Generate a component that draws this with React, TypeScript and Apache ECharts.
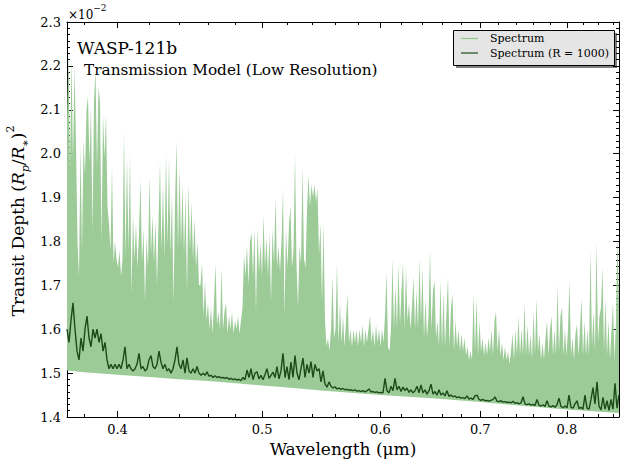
import { useEffect, useRef } from "react";
import * as echarts from "echarts";

// Wavelength range of the plotted spectrum (micron)
const WAVE_MIN = 0.37;
const WAVE_MAX = 0.867;

// Labelled and minor wavelength ticks
const MAJOR_WAVE_TICKS = [0.4, 0.5, 0.6, 0.7, 0.8];
const MINOR_WAVE_TICKS = [
  0.38, 0.42, 0.44, 0.46, 0.48, 0.52, 0.54, 0.56, 0.58, 0.62, 0.64, 0.66, 0.68,
  0.72, 0.74, 0.76, 0.78, 0.82, 0.84, 0.86,
];

// Transit depth axis (units of 1e-2)
const DEPTH_MIN = 1.4;
const DEPTH_MAX = 2.3;
const DEPTH_STEP = 0.1;

// Native-resolution spectrum: upper envelope, sampled on a uniform log-wavelength grid
const SPECTRUM_PEAK = [
  2.08, 2.23, 1.96, 2.22, 1.98, 2.2, 2.02, 1.8, 1.72, 2.02,
  1.78, 2.03, 1.95, 2.1, 2.13, 1.98, 2.11, 1.82, 2.12, 2.19,
  1.97, 2.15, 2.12, 1.8, 2.09, 1.99, 2.09, 1.88, 1.84,
  1.78, 1.97, 1.75, 1.8, 1.76, 1.74, 1.78, 1.72, 1.76, 2.05,
  1.76, 1.99, 1.78, 2.0, 1.68, 1.86, 1.76, 1.84, 1.74, 1.82,
  1.94, 1.75, 1.83, 1.66, 1.81, 1.74, 1.95, 1.77, 1.86, 1.75,
  1.85, 1.7, 1.84, 1.98, 1.78, 1.93, 1.76, 2.0, 1.79, 1.99,
  1.77, 1.91, 1.66, 1.88, 2.03, 1.78, 1.97, 1.79, 1.93, 1.77,
  1.91, 1.68, 1.93, 1.78, 1.89, 1.76, 1.85, 1.74, 1.8, 1.7,
  1.7, 1.75, 1.63, 1.71, 1.62, 1.66, 1.6, 1.65, 1.59, 1.66,
  1.75, 1.61, 1.64, 1.6, 1.74, 1.6, 1.64, 1.66, 1.59, 1.63,
  1.6, 1.64, 1.59, 1.62, 1.6, 1.63, 1.59, 1.62, 1.65, 1.77,
  1.72, 1.79, 1.7, 1.8, 1.82, 1.72, 1.83, 1.64, 1.83, 1.73,
  1.8, 1.72, 1.86, 1.74, 1.81, 1.72, 1.82, 1.66, 1.83, 1.75,
  1.9, 1.74, 1.79, 1.73, 1.8, 1.92, 1.63, 1.83, 1.74, 1.84,
  1.88, 1.74, 1.78, 2.0, 1.75, 1.65, 1.79, 1.75, 1.97, 1.76,
  1.74, 1.87, 1.95, 1.88, 1.93, 1.9, 1.93, 1.89, 1.92, 1.77,
  1.84, 1.66, 1.84, 1.62,
  1.56, 1.58, 1.55, 1.6, 1.72, 1.58, 1.6, 1.75, 1.57, 1.66,
  1.57, 1.63, 1.56, 1.62, 1.68, 1.57, 1.6, 1.56, 1.6, 1.57,
  1.6, 1.56, 1.6, 1.57, 1.61, 1.56, 1.6, 1.57, 1.6, 1.63,
  1.57, 1.6, 1.56, 1.61, 1.57, 1.6, 1.56, 1.6, 1.57, 1.63,
  1.73, 1.56, 1.55, 1.6, 1.76, 1.6, 1.7, 1.6, 1.75, 1.61,
  1.69, 1.75, 1.6, 1.74, 1.62, 1.66, 1.6, 1.65, 1.72, 1.6,
  1.69, 1.6, 1.76, 1.62, 1.74, 1.58, 1.67, 1.58, 1.63, 1.78,
  1.6, 1.69, 1.71, 1.58, 1.62, 1.56,
  1.71, 1.56, 1.68, 1.56, 1.64, 1.72, 1.56, 1.65, 1.68, 1.55,
  1.62, 1.56, 1.6, 1.55, 1.59, 1.55, 1.58, 1.54, 1.56, 1.53,
  1.55, 1.53, 1.68, 1.55, 1.67, 1.54, 1.62, 1.55, 1.58, 1.54,
  1.57, 1.54, 1.58, 1.55, 1.6, 1.54, 1.62, 1.64, 1.55, 1.6,
  1.54, 1.57, 1.53, 1.56, 1.53, 1.55, 1.52, 1.55, 1.59, 1.53,
  1.6, 1.54, 1.63, 1.54, 1.6, 1.54, 1.66, 1.54, 1.61, 1.54,
  1.59, 1.53, 1.64, 1.54, 1.67, 1.55, 1.59, 1.53, 1.57, 1.53,
  1.58, 1.62, 1.54, 1.6, 1.63, 1.54, 1.6, 1.54, 1.7, 1.55,
  1.63, 1.65, 1.54, 1.6, 1.54, 1.6, 1.71, 1.54, 1.58, 1.53,
  1.59, 1.61, 1.54, 1.6, 1.67, 1.54, 1.62, 1.54, 1.6, 1.54,
  1.78, 1.56, 1.64, 1.55, 1.8, 1.57, 1.63, 1.65, 1.74, 1.55,
  1.67, 1.54, 1.62, 1.53, 1.6, 1.66, 1.53, 1.62, 1.81, 1.65,
];

// Lower envelope (continuum floor) of the native-resolution spectrum
const FLOOR_WAVE = [
  0.37, 0.38, 0.39, 0.4, 0.42, 0.44, 0.46, 0.48, 0.5, 0.52, 0.55, 0.6, 0.65,
  0.7, 0.75, 0.8, 0.867,
];
const FLOOR_DEPTH = [
  1.506, 1.502, 1.499, 1.496, 1.491, 1.486, 1.482, 1.477, 1.472, 1.467, 1.46,
  1.45, 1.443, 1.434, 1.425, 1.417, 1.409,
];

// Spectrum binned to R = 1000, on its own uniform log-wavelength grid
const BINNED_DEPTH = [
  1.6, 1.57, 1.62, 1.66, 1.6, 1.55, 1.53, 1.58, 1.55, 1.6,
  1.63, 1.58, 1.56, 1.6, 1.58, 1.6, 1.57, 1.59, 1.55, 1.57,
  1.53, 1.51, 1.52, 1.51, 1.52, 1.51, 1.52, 1.51, 1.53, 1.56,
  1.51, 1.52, 1.51, 1.505, 1.51, 1.52, 1.545, 1.51, 1.515, 1.505,
  1.51, 1.53, 1.54, 1.515, 1.51, 1.52, 1.55, 1.525, 1.51, 1.52,
  1.505, 1.51, 1.5, 1.51, 1.53, 1.56, 1.52, 1.51, 1.53, 1.5,
  1.535, 1.505, 1.5, 1.51, 1.5, 1.515, 1.5, 1.495, 1.5, 1.495,
  1.503, 1.493, 1.495, 1.49, 1.494, 1.49, 1.492, 1.489, 1.49, 1.488,
  1.49, 1.486, 1.488, 1.485, 1.487, 1.484, 1.486, 1.483, 1.49, 1.485,
  1.507, 1.49, 1.51, 1.485, 1.5, 1.503, 1.487, 1.495, 1.485, 1.497,
  1.51, 1.488, 1.495, 1.502, 1.49, 1.515, 1.487, 1.505, 1.545, 1.49,
  1.515, 1.485, 1.525, 1.49, 1.54, 1.5, 1.485, 1.51, 1.534, 1.49,
  1.52, 1.5, 1.526, 1.49, 1.52, 1.505, 1.51, 1.48, 1.505, 1.475,
  1.468, 1.48, 1.47, 1.466, 1.469, 1.464, 1.466, 1.463, 1.465, 1.462,
  1.463, 1.461, 1.462, 1.46, 1.462, 1.459, 1.46, 1.458, 1.46, 1.457,
  1.46, 1.464, 1.457, 1.458, 1.456, 1.457, 1.455, 1.456, 1.455, 1.488,
  1.46, 1.455, 1.47, 1.46, 1.488, 1.462, 1.47, 1.458, 1.468, 1.46,
  1.466, 1.456, 1.462, 1.455, 1.46, 1.47, 1.455, 1.473, 1.455, 1.462,
  1.452, 1.46, 1.475, 1.452, 1.458, 1.45, 1.462, 1.45, 1.455, 1.448,
  1.46, 1.447, 1.45, 1.446, 1.448, 1.444, 1.446, 1.443, 1.444, 1.442,
  1.448, 1.441, 1.443, 1.44, 1.448, 1.45, 1.44, 1.438, 1.44, 1.437,
  1.438, 1.436, 1.438, 1.44, 1.446, 1.436, 1.435, 1.437, 1.434, 1.435,
  1.433, 1.434, 1.432, 1.436, 1.431, 1.433, 1.43, 1.432, 1.446, 1.43,
  1.428, 1.43, 1.427, 1.429, 1.426, 1.44, 1.427, 1.425, 1.428, 1.424,
  1.437, 1.425, 1.423, 1.426, 1.422, 1.428, 1.443, 1.424, 1.421, 1.425,
  1.421, 1.45, 1.422, 1.42, 1.43, 1.437, 1.419, 1.422, 1.418, 1.45,
  1.42, 1.418, 1.44, 1.467, 1.43, 1.48, 1.425, 1.416, 1.445, 1.418,
  1.437, 1.415, 1.44, 1.418, 1.477, 1.42, 1.45,
];

const LIGHT_FILL = "#9ccb98";
const LIGHT_LINE = "#8ccb88";
const DARK_LINE = "#1c4a18";
const FONT = "DejaVu Serif";

const lg = (w: number) => Math.log10(w);

// Uniform grid in log-wavelength between the range limits
function logWaveGrid(n: number): number[] {
  const step = Math.log(WAVE_MAX / WAVE_MIN) / (n - 1);
  return Array.from({ length: n }, (_, i) => WAVE_MIN * Math.exp(step * i));
}

function waveAxis(position: "top" | "bottom", ticks: number[], length: number, labels: boolean, line: boolean) {
  const vals = ticks.map(lg);
  return {
    type: "value",
    position,
    min: lg(WAVE_MIN),
    max: lg(WAVE_MAX),
    axisLine: { show: line, onZero: false, lineStyle: { color: "#000", width: 1 } },
    axisTick: { show: true, inside: true, length, customValues: vals, lineStyle: { color: "#000", width: 1 } },
    axisLabel: {
      show: labels,
      customValues: vals,
      formatter: (v: number) => Math.pow(10, v).toFixed(1),
      fontFamily: FONT,
      fontSize: 13,
      color: "#000",
      margin: 6,
    },
    splitLine: { show: false },
  };
}

function depthAxis(position: "left" | "right", labels: boolean) {
  return {
    type: "value",
    position,
    min: DEPTH_MIN,
    max: DEPTH_MAX,
    interval: DEPTH_STEP,
    axisLine: { show: true, onZero: false, lineStyle: { color: "#000", width: 1 } },
    axisTick: { show: true, inside: true, length: 6, lineStyle: { color: "#000", width: 1 } },
    minorTick: { show: true, splitNumber: 7, length: 3, lineStyle: { color: "#000", width: 1 } },
    axisLabel: {
      show: labels,
      formatter: (v: number) => v.toFixed(1),
      fontFamily: FONT,
      fontSize: 13,
      color: "#000",
      margin: 6,
    },
    splitLine: { show: false },
    minorSplitLine: { show: false },
  };
}

export default function App() {
  const ref = useRef<HTMLDivElement>(null);

  useEffect(() => {
    if (!ref.current) return;
    const chart = echarts.init(ref.current, null, { renderer: "svg" });

    const peakWave = logWaveGrid(SPECTRUM_PEAK.length);
    const binnedWave = logWaveGrid(BINNED_DEPTH.length);

    const bottomX = waveAxis("bottom", MAJOR_WAVE_TICKS, 6, true, true);
    (bottomX as any).name = "Wavelength (\u03bcm)";
    (bottomX as any).nameLocation = "middle";
    (bottomX as any).nameGap = 23;
    (bottomX as any).nameTextStyle = { fontFamily: FONT, fontSize: 17, color: "#000" };

    chart.setOption({
      animation: false,
      backgroundColor: "#fff",
      textStyle: { fontFamily: FONT },
      grid: { left: 67, right: 8, top: 22, bottom: 50, containLabel: false, outerBoundsMode: "none" },
      xAxis: [
        bottomX,
        waveAxis("bottom", MINOR_WAVE_TICKS, 3, false, false),
        waveAxis("top", MAJOR_WAVE_TICKS, 6, false, true),
        waveAxis("top", MINOR_WAVE_TICKS, 3, false, false),
      ],
      yAxis: [depthAxis("left", true), depthAxis("right", false)],
      series: [
        {
          type: "custom",
          name: "Spectrum",
          xAxisIndex: 0,
          yAxisIndex: 0,
          silent: true,
          clip: true,
          z: 1,
          data: [[lg(peakWave[0]), SPECTRUM_PEAK[0]]],
          renderItem: (_params: any, api: any) => {
            const pts: number[][] = peakWave.map((w, i) => api.coord([lg(w), SPECTRUM_PEAK[i]]));
            for (let k = FLOOR_WAVE.length - 1; k >= 0; k--) {
              pts.push(api.coord([lg(FLOOR_WAVE[k]), FLOOR_DEPTH[k]]));
            }
            return { type: "polygon", shape: { points: pts }, style: { fill: LIGHT_FILL } };
          },
        },
        {
          type: "line",
          name: "Spectrum (R = 1000)",
          xAxisIndex: 0,
          yAxisIndex: 0,
          silent: true,
          z: 3,
          symbol: "none",
          showSymbol: false,
          lineStyle: { color: DARK_LINE, width: 1.4 },
          data: binnedWave.map((w, i) => [lg(w), BINNED_DEPTH[i]]),
        },
      ],
      graphic: [
        {
          type: "text",
          x: 68,
          y: 3,
          style: {
            text: "{a|\u00d710}{b|\u22122}",
            rich: {
              a: { fontFamily: FONT, fontSize: 12, lineHeight: 18, verticalAlign: "bottom", fill: "#000" },
              b: { fontFamily: FONT, fontSize: 9, lineHeight: 18, verticalAlign: "top", fill: "#000" },
            },
          },
        },
        {
          type: "text",
          x: 77,
          y: 48,
          style: { text: "WASP-121b", fontFamily: FONT, fontSize: 17, fill: "#000", verticalAlign: "middle" },
        },
        {
          type: "text",
          x: 84,
          y: 70,
          style: {
            text: "Transmission Model (Low Resolution)",
            fontFamily: FONT,
            fontSize: 15.3,
            fill: "#000",
            verticalAlign: "middle",
          },
        },
        {
          type: "text",
          x: 18,
          y: 221,
          rotation: Math.PI / 2,
          style: {
            text: "{n|Transit Depth }{n|(}{i|R}{s|p}{n|/}{i|R}{s|\u2217}{n|)}{u|2}",
            align: "center",
            verticalAlign: "middle",
            rich: {
              n: { fontFamily: FONT, fontSize: 17, lineHeight: 26, verticalAlign: "middle", fill: "#000" },
              i: { fontFamily: FONT, fontSize: 17, fontStyle: "italic", lineHeight: 26, verticalAlign: "middle", fill: "#000" },
              s: { fontFamily: FONT, fontSize: 11, fontStyle: "italic", lineHeight: 12, verticalAlign: "bottom", fill: "#000" },
              u: { fontFamily: FONT, fontSize: 11, lineHeight: 12, verticalAlign: "top", fill: "#000" },
            },
          },
        },
        {
          type: "group",
          children: [
            { type: "rect", shape: { x: 456, y: 33, width: 161, height: 35 }, style: { fill: "#808080" } },
            {
              type: "rect",
              shape: { x: 453.5, y: 30.5, width: 161, height: 35 },
              style: { fill: "#e5e5e5", stroke: "#000", lineWidth: 1 },
            },
            { type: "line", shape: { x1: 461, y1: 38.5, x2: 478, y2: 38.5 }, style: { stroke: LIGHT_LINE, lineWidth: 1.2 } },
            { type: "line", shape: { x1: 461, y1: 53, x2: 478, y2: 53 }, style: { stroke: DARK_LINE, lineWidth: 1.2 } },
            {
              type: "text",
              x: 490,
              y: 38.5,
              style: { text: "Spectrum", fontFamily: FONT, fontSize: 11, fill: "#000", verticalAlign: "middle" },
            },
            {
              type: "text",
              x: 490,
              y: 53,
              style: { text: "Spectrum (R = 1000)", fontFamily: FONT, fontSize: 11, fill: "#000", verticalAlign: "middle" },
            },
          ],
        },
      ],
    });

    return () => chart.dispose();
  }, []);

  return (
    <div
      ref={ref}
      style={{ position: "fixed", left: 0, top: 0, width: 627, height: 467, background: "#fff" }}
    />
  );
}
